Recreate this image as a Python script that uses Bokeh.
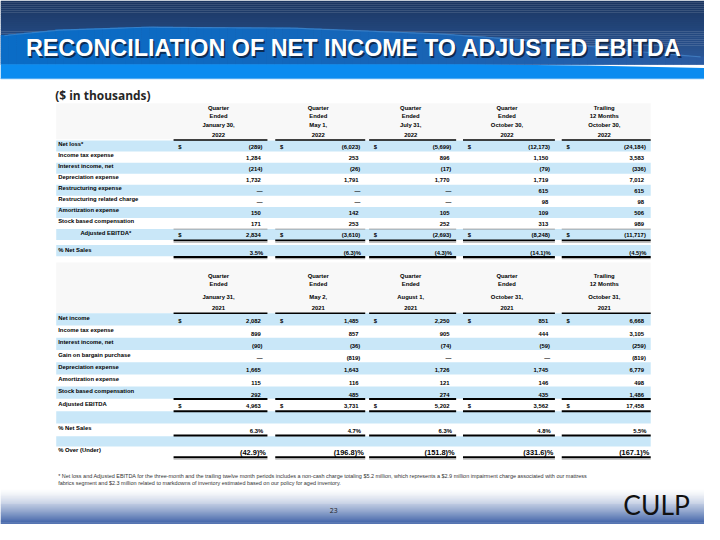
import numpy as np
from bokeh.plotting import figure
from bokeh.models import Range1d, ColumnDataSource
from bokeh.core.properties import value
from bokeh.embed import file_html
from bokeh.resources import INLINE

# ---------------- data ----------------
title_text = "RECONCILIATION OF NET INCOME TO ADJUSTED EBITDA"
units_text = "($ in thousands)"
page_number = "23"
logo_text = "CULP"

t1_header_top = ["Quarter", "Quarter", "Quarter", "Quarter", "Trailing"]
t1_header_mid = ["Ended", "Ended", "Ended", "Ended", "12 Months"]
t1_header_date = ["January 30,", "May 1,", "July 31,", "October 30,", "October 30,"]
t1_header_year = ["2022", "2022", "2022", "2022", "2022"]
t1_labels = ["Net loss*", "Income tax expense", "Interest income, net",
             "Depreciation expense", "Restructuring expense",
             "Restructuring related charge", "Amortization expense",
             "Stock based compensation", "Adjusted EBITDA*"]
t1_net_loss = [-289, -6023, -5699, -12173, -24184]
t1_income_tax = [1284, 253, 896, 1150, 3583]
t1_interest = [-214, -26, -17, -79, -336]
t1_depreciation = [1732, 1791, 1770, 1719, 7012]
t1_restructuring = [None, None, None, 615, 615]
t1_restructuring_related = [None, None, None, 98, 98]
t1_amortization = [150, 142, 105, 109, 506]
t1_stock_comp = [171, 253, 252, 313, 989]
t1_adj_ebitda = [2834, -3610, -2693, -8248, -11717]
t1_pct_label = "% Net Sales"
t1_pct_net_sales = [3.5, -6.3, -4.3, -14.1, -4.5]

t2_header_top = ["Quarter", "Quarter", "Quarter", "Quarter", "Trailing"]
t2_header_mid = ["Ended", "Ended", "Ended", "Ended", "12 Months"]
t2_header_date = ["January 31,", "May 2,", "August 1,", "October 31,", "October 31,"]
t2_header_year = ["2021", "2021", "2021", "2021", "2021"]
t2_labels = ["Net income", "Income tax expense", "Interest income, net",
             "Gain on bargain purchase", "Depreciation expense",
             "Amortization expense", "Stock based compensation"]
t2_net_income = [2082, 1485, 2250, 851, 6668]
t2_income_tax = [899, 857, 905, 444, 3105]
t2_interest = [-90, -36, -74, -59, -259]
t2_gain_bargain = [None, -819, None, None, -819]
t2_depreciation = [1665, 1643, 1726, 1745, 6779]
t2_amortization = [115, 116, 121, 146, 498]
t2_stock_comp = [292, 485, 274, 435, 1486]
t2_adj_label = "Adjusted EBITDA"
t2_adj_ebitda = [4963, 3731, 5202, 3562, 17458]
t2_pct_label = "% Net Sales"
t2_pct_net_sales = [6.3, 4.7, 6.3, 4.8, 5.5]
t2_over_label = "% Over (Under)"
t2_pct_over_under = [-42.9, -196.8, -151.8, -331.6, -167.1]

footnote_lines = [
    "* Net loss and Adjusted EBITDA for the three-month and the trailing twelve month periods includes a non-cash charge totaling $5.2 million, which represents a $2.9 million impairment charge associated with our mattress",
    "fabrics segment and $2.3 million related to markdowns of inventory estimated based on our policy for aged inventory.",
]

# ---------------- helpers ----------------
W, H = 704, 524
S = W / 720.0
FONT = "Liberation Sans"
STRIPE = "#c9e7f8"


def fmt_num(v):
    if v is None:
        return "\u2014"
    if v < 0:
        return "({:,})".format(-v)
    return "{:,}".format(v)


def fmt_pct(v):
    if v < 0:
        return "({:.1f})%".format(-v)
    return "{:.1f}%".format(v)


def hex2rgb(h):
    h = h.lstrip("#")
    return np.array([int(h[i:i + 2], 16) for i in (0, 2, 4)], dtype=float)


def mix(c0, c1, t):
    a, b = hex2rgb(c0), hex2rgb(c1)
    c = a + (b - a) * t
    return "#%02x%02x%02x" % tuple(int(round(x)) for x in c)


p = figure(width=W, height=H, x_range=Range1d(0, 720), y_range=Range1d(540, 0),
           output_backend="svg", toolbar_location=None, min_border=0,
           x_axis_location=None, y_axis_location=None)
p.grid.visible = False
p.outline_line_color = None
p.background_fill_color = "white"
p.border_fill_color = "white"


def txt(xs, ys, texts, size, align="left", baseline="middle", color="#000000",
        style="bold", font=FONT, alpha=1.0):
    src = ColumnDataSource(dict(x=list(xs), y=list(ys), t=list(texts)))
    p.text(x="x", y="y", text="t", source=src, text_font=value(font),
           text_font_style=style, text_font_size=value("%.2fpx" % (size * S)),
           text_align=align, text_baseline=baseline, text_color=color,
           text_alpha=alpha)


def quads(l, r, t, b, colors):
    src = ColumnDataSource(dict(l=list(l), r=list(r), t=list(t), b=list(b), c=list(colors)))
    p.quad(left="l", right="r", top="t", bottom="b", fill_color="c",
           line_color=None, source=src)


def vgrad(y0, y1, c0, c1, n, x0=0, x1=720, gamma=1.0):
    ys = np.linspace(y0, y1, n + 1)
    cols = [mix(c0, c1, (i / (n - 1)) ** gamma) for i in range(n)]
    quads([x0] * n, [x1] * n, ys[:-1], ys[1:] + 0.3, cols)


def hlines(y, spans, color="#000000", width=1.5):
    p.segment(x0=[s[0] for s in spans], x1=[s[1] for s in spans],
              y0=[y] * len(spans), y1=[y] * len(spans),
              line_color=color, line_width=width * S)


# ---------------- header band ----------------
vgrad(0, 66, "#1b3560", "#2c5a9c", 33)
wx = np.arange(0, 720, 8.0)
ctrl_x = [0, 60, 150, 300, 450, 560, 650, 720]
ctrl_y = [36, 30, 27, 28, 34, 42, 52, 58]
wtop = np.interp(wx + 4, ctrl_x, ctrl_y)
wcols = [mix("#0a6cc6", "#2b5aa0", min(1, (x / 720) ** 1.5)) for x in wx]
quads(wx, wx + 8.5, wtop, [66] * len(wx), wcols)
p.line(x=wx + 4, y=wtop + 0.5, line_color="#4f8fd0", line_width=1.2, line_alpha=0.6)
band_x = [0, 480, 600, 720, 720, 0]
band_y = [65.7, 65.7, 67, 69.5, 81, 81]
p.patch(x=band_x, y=band_y, fill_color="#0b8cf0", line_color=None)
p.segment(x0=[0], x1=[720], y0=[80.6], y1=[80.6], line_color="#5fb3f5", line_width=1)

# title with shadow
txt([27.6], [50.6], [title_text], 23.9, color="#0a1830", alpha=0.75)
txt([26], [49.2], [title_text], 23.9, color="#ffffff")

# ---------------- bottom gradient ----------------
vgrad(503, 540, "#ffffff", "#3a5ea5", 37, gamma=1.3)

# ---------------- table geometry ----------------
col_l = [177, 281, 377, 473, 574]
col_r = [273, 373, 466, 567, 665]
spans = list(zip(col_l, col_r))
TX0, TX1 = 57, 665
LABEL_X = 59
FS = 6.0

# light panels behind headers
quads([TX0, TX0], [TX1, TX1], [106, 270], [143, 322], ["#f8f8f8", "#f8f8f8"])

# units label
txt([56], [97.5], [units_text], 12.2, color="#262626", font="Open Sans")


def num_x(i, s):
    return col_r[i] - (5.0 if (s.endswith(")") or s == "\u2014") else 6.8)


def put_numbers(vals, y, size=FS, dollar=False):
    ss = [fmt_num(v) for v in vals]
    txt([num_x(i, s) for i, s in enumerate(ss)], [y] * 5, ss, size, align="right")
    if dollar:
        txt([l + 6.5 for l in col_l], [y] * 5, ["$"] * 5, size, align="center")


def put_pcts(vals, y, size=FS, off=4.3):
    ss = [fmt_pct(v) for v in vals]
    txt([r - off for r in col_r], [y] * 5, ss, size, align="right")


def put_headers(rows, ys):
    for row, y in zip(rows, ys):
        txt([(l + r) / 2 - 2 for l, r in spans], [y] * 5, row, FS, align="center")


# ---------------- table 1 ----------------
t1_rows = [t1_net_loss, t1_income_tax, t1_interest, t1_depreciation,
           t1_restructuring, t1_restructuring_related, t1_amortization,
           t1_stock_comp, t1_adj_ebitda]
RH1 = 11.4
tops1 = [144.3 + RH1 * i for i in range(len(t1_rows))]
st = [t for i, t in enumerate(tops1) if i % 2 == 0]
quads([TX0] * len(st), [TX1] * len(st), st, [t + RH1 for t in st], [STRIPE] * len(st))
quads([TX0], [TX1], [252], [263.6], [STRIPE])

put_headers([t1_header_top, t1_header_mid, t1_header_date, t1_header_year],
            [110.7, 118.7, 128.7, 138.7])
hlines(143.7, spans, width=1.6)

for i, (lab, vals) in enumerate(zip(t1_labels, t1_rows)):
    lx = LABEL_X + (22.7 if i == len(t1_rows) - 1 else 0)
    txt([lx], [tops1[i] + 3.6], [lab], FS)
    put_numbers(vals, tops1[i] + 6.2, dollar=(i in (0, len(t1_rows) - 1)))

txt([LABEL_X], [256.7], [t1_pct_label], FS)
put_pcts(t1_pct_net_sales, 259.7)

hlines(235.6, spans, color="#8a8a8a", width=0.8)
hlines(247.2, spans, width=2.0)
hlines(249.0, spans, color="#9a9a9a", width=1.0)
hlines(264.3, spans, width=2.0)
hlines(266.1, spans, color="#9a9a9a", width=1.0)

# ---------------- table 2 ----------------
t2_rows = [t2_net_income, t2_income_tax, t2_interest, t2_gain_bargain,
           t2_depreciation, t2_amortization, t2_stock_comp]
RH2 = 12.6
tops2 = [322.3 + RH2 * i for i in range(len(t2_rows))]
st = [t for i, t in enumerate(tops2) if i % 2 == 0]
quads([TX0] * len(st), [TX1] * len(st), st, [t + RH2 for t in st], [STRIPE] * len(st))
quads([TX0, TX0], [TX1, TX1], [423.3, 449], [436, 459.5], [STRIPE, STRIPE])

put_headers([t2_header_top, t2_header_mid, t2_header_date, t2_header_year],
            [284.3, 292.3, 305.3, 317.3])
hlines(322.3, spans, width=1.6)

for i, (lab, vals) in enumerate(zip(t2_labels, t2_rows)):
    txt([LABEL_X], [tops2[i] + 4.8], [lab], FS)
    put_numbers(vals, tops2[i] + 8.5, dollar=(i == 0))

txt([LABEL_X], [415.7], [t2_adj_label], FS)
put_numbers(t2_adj_ebitda, 417.5, dollar=True)
txt([LABEL_X], [440.7], [t2_pct_label], FS)
put_pcts(t2_pct_net_sales, 443.7)
txt([LABEL_X], [463.3], [t2_over_label], FS)
put_pcts(t2_pct_over_under, 466.0, size=7.6, off=1.5)

hlines(410.7, spans, width=2.0)
hlines(423.3, spans, width=2.0)
hlines(448.3, spans, width=2.0)
hlines(470.6, spans, width=2.0)
hlines(472.5, spans, color="#9a9a9a", width=1.2)

# footnote
txt([LABEL_X, LABEL_X], [489.7, 497.7], footnote_lines, 5.6, style="normal", color="#333333")

# page number and logo
txt([340.7], [525.7], [page_number], 7, align="center", style="normal", color="#222222", font="Open Sans")
txt([637], [519.5], [logo_text], 27, style="normal", color="#111111", font="Lato")

open("out.html", "w").write(file_html(p, INLINE))
